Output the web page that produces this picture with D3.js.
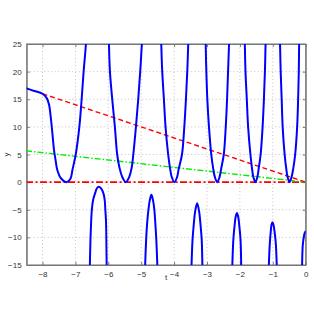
<!DOCTYPE html>
<html>
<head>
<meta charset="utf-8">
<script src="https://cdn.jsdelivr.net/npm/d3@7"></script>
<style>
body{margin:0;background:#fff;}
text{font-family:"Liberation Sans",Arial,sans-serif;}
</style>
</head>
<body>
<div id="chart"></div>
<script>
// blue solution curve, one array per branch (t, y)
var branch1 = [[-8.5,17.0],[-8.25,16.5],[-8.0,16.0],[-7.87,15.2],[-7.8,14.0],[-7.75,11.8],[-7.7,8.9],[-7.65,5.8],[-7.6,3.9],[-7.55,2.2],[-7.44,0.7],[-7.26,0],[-7.15,0.6],[-7.09,2.2],[-6.99,5],[-6.88,10],[-6.81,15],[-6.75,20],[-6.68,25],[-6.66,28]];
var branch2 = [[-5.99,28],[-5.98,25],[-5.95,20],[-5.88,15],[-5.80,10],[-5.73,5],[-5.66,2.6],[-5.58,1.0],[-5.47,0],[-5.36,1.0],[-5.29,2.6],[-5.24,5],[-5.16,10],[-5.09,15],[-5.03,20],[-4.98,25],[-4.96,28]];
var branch3 = [[-4.40,28],[-4.39,25],[-4.36,20],[-4.31,15],[-4.26,10],[-4.18,5],[-4.12,2.4],[-4.07,0.9],[-3.99,0],[-3.91,0.9],[-3.86,2.4],[-3.76,5],[-3.69,10],[-3.64,15],[-3.60,20],[-3.57,25],[-3.56,28]];
var branch4 = [[-3.05,28],[-3.04,25],[-3.02,20],[-2.99,15],[-2.94,10],[-2.87,5],[-2.81,2.4],[-2.76,0.9],[-2.69,0],[-2.62,0.9],[-2.57,2.4],[-2.49,5],[-2.43,10],[-2.39,15],[-2.36,20],[-2.33,25],[-2.32,28]];
var branch5 = [[-1.86,28],[-1.85,25],[-1.83,20],[-1.79,15],[-1.75,10],[-1.68,5],[-1.63,2.4],[-1.59,0.9],[-1.53,0],[-1.47,0.9],[-1.43,2.4],[-1.37,5],[-1.31,10],[-1.27,15],[-1.24,20],[-1.22,25],[-1.21,28]];
var branch6 = [[-0.79,28],[-0.78,25],[-0.76,20],[-0.73,15],[-0.70,10],[-0.64,5],[-0.59,2.4],[-0.55,0.9],[-0.49,0],[-0.43,0.9],[-0.38,2.4],[-0.32,5],[-0.26,10],[-0.23,15],[-0.21,20],[-0.20,25],[-0.19,28]];
var cap1 = [[-6.57,-17],[-6.56,-15],[-6.54,-10],[-6.52,-7],[-6.50,-5],[-6.46,-3.2],[-6.40,-2.0],[-6.35,-1.15],[-6.29,-0.83],[-6.22,-1.15],[-6.15,-2.0],[-6.11,-3.2],[-6.09,-5],[-6.07,-7],[-6.06,-10],[-6.05,-15],[-6.04,-17]];
var cap2 = [[-4.89,-17],[-4.88,-15],[-4.85,-10.5],[-4.82,-7.5],[-4.78,-5],[-4.74,-3.3],[-4.69,-2.3],[-4.64,-3.3],[-4.60,-5],[-4.57,-7.5],[-4.54,-10.5],[-4.51,-15],[-4.50,-17]];
var cap3 = [[-3.48,-17],[-3.47,-15],[-3.44,-10.5],[-3.40,-7.5],[-3.36,-5.3],[-3.30,-3.84],[-3.24,-5.3],[-3.20,-7.5],[-3.16,-10.5],[-3.14,-15],[-3.13,-17]];
var cap4 = [[-2.24,-17],[-2.23,-15],[-2.20,-10.5],[-2.16,-7.8],[-2.13,-6.3],[-2.09,-5.6],[-2.05,-6.3],[-2.02,-7.8],[-1.98,-10.5],[-1.96,-15],[-1.95,-17]];
var cap5 = [[-1.13,-17],[-1.12,-15],[-1.09,-11],[-1.06,-8.8],[-1.04,-7.7],[-1.01,-7.25],[-0.98,-7.7],[-0.95,-8.8],[-0.91,-11],[-0.88,-15],[-0.87,-17]];
var cap6 = [[-0.12,-17],[-0.11,-15],[-0.09,-11.5],[-0.06,-10],[-0.03,-9.2],[0,-8.85]];
var blueBranches = [branch1,branch2,branch3,branch4,branch5,branch6,cap1,cap2,cap3,cap4,cap5,cap6];

// reference lines
var redSlope = [[-8,16],[0,0]];
var greenSlope = [[-8.5,5.67],[0,0]];
var redZero = [[-8.5,0],[0,0]];

var xTicks = [-8,-7,-6,-5,-4,-3,-2,-1,0];
var yTicks = [-15,-10,-5,0,5,10,15,20,25];

var width = 314, height = 319;
var margin = {top:44, right:8.3, bottom:54, left:26.7};
var w = width - margin.left - margin.right;
var h = height - margin.top - margin.bottom;

var svg = d3.select("#chart").append("svg")
	.attr("width", width)
	.attr("height", height);

var g = svg.append("g")
	.attr("transform","translate(" + margin.left + "," + margin.top + ")");

var x = d3.scaleLinear().domain([-8.48,0]).range([0,w]);
var y = d3.scaleLinear().domain([-15,25]).range([h,0]);

g.append("clipPath").attr("id","clip")
	.append("rect").attr("width",w).attr("height",h);

// grid
g.selectAll(".gx").data(xTicks).enter().append("line")
	.attr("x1",function(d){return x(d);}).attr("x2",function(d){return x(d);})
	.attr("y1",0).attr("y2",h)
	.attr("stroke","#c4c4c4").attr("stroke-dasharray","1,2.5");
g.selectAll(".gy").data(yTicks).enter().append("line")
	.attr("y1",function(d){return y(d);}).attr("y2",function(d){return y(d);})
	.attr("x1",0).attr("x2",w)
	.attr("stroke","#c4c4c4").attr("stroke-dasharray","1,2.5");

// axes (ticks inward, MATLAB style)
var fmt = function(d){return d < 0 ? "\u2212" + Math.abs(d) : d;};
var xAxis = g.append("g").attr("transform","translate(0," + h + ")")
	.call(d3.axisBottom(x).tickValues(xTicks).tickSizeInner(-3).tickSizeOuter(0).tickPadding(6).tickFormat(fmt));
var xTop = g.append("g")
	.call(d3.axisTop(x).tickValues(xTicks).tickSizeInner(-3).tickSizeOuter(0).tickFormat(""));
var yAxis = g.append("g")
	.call(d3.axisLeft(y).tickValues(yTicks).tickSizeInner(-3).tickSizeOuter(0).tickPadding(5).tickFormat(fmt));
var yRight = g.append("g").attr("transform","translate(" + w + ",0)")
	.call(d3.axisRight(y).tickValues(yTicks).tickSizeInner(-3).tickSizeOuter(0).tickFormat(""));
[xAxis,xTop,yAxis,yRight].forEach(function(a){
	a.selectAll("path").attr("stroke","#777");
	a.selectAll("line").attr("stroke","#777");
	a.selectAll("text").attr("fill","#333").style("font-size","8px");
});
g.append("rect").attr("width",w).attr("height",h)
	.attr("fill","none").attr("stroke","#777");

var line = d3.line()
	.x(function(d){return x(d[0]);})
	.y(function(d){return y(d[1]);});

var plot = g.append("g").attr("clip-path","url(#clip)");

plot.append("path").datum(redZero).attr("d",line)
	.attr("fill","none").attr("stroke","#ff0000").attr("stroke-width",1.6)
	.attr("stroke-dasharray","7,2.5,2,2.5");
plot.append("path").datum(greenSlope).attr("d",line)
	.attr("fill","none").attr("stroke","#00ee00").attr("stroke-width",1.4)
	.attr("stroke-dasharray","6,2,1.5,2");
plot.append("path").datum(redSlope).attr("d",line)
	.attr("fill","none").attr("stroke","#ff0000").attr("stroke-width",1.4)
	.attr("stroke-dasharray","5,3");

var curve = d3.line()
	.x(function(d){return x(d[0]);})
	.y(function(d){return y(d[1]);})
	.curve(d3.curveCatmullRom.alpha(0.5));

plot.selectAll(".branch").data(blueBranches).enter().append("path")
	.attr("d",curve)
	.attr("fill","none").attr("stroke","#0000ff").attr("stroke-width",2);

// axis labels
svg.append("text").attr("x",margin.left + w/2).attr("y",280)
	.attr("text-anchor","middle").style("font-size","8px").attr("fill","#333").text("t");
svg.append("text").attr("transform","translate(9," + (margin.top + h/2) + ") rotate(-90)")
	.attr("text-anchor","middle").style("font-size","8px").attr("fill","#333").text("y");
</script>
</body>
</html>
